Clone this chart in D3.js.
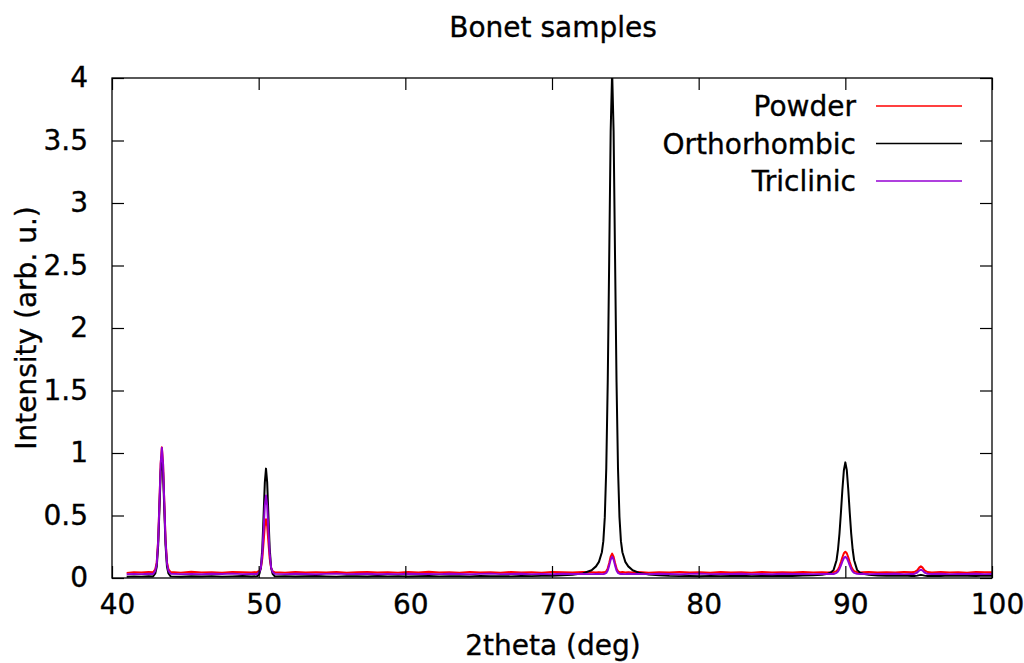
<!DOCTYPE html>
<html>
<head>
<meta charset="utf-8">
<script src="https://cdn.jsdelivr.net/npm/d3@7/dist/d3.min.js"></script>
<style>
  html, body { margin: 0; padding: 0; background: #fff; }
  svg { display: block; }
  text { font-family: "DejaVu Sans", Verdana, sans-serif; fill: #000; stroke: #000; stroke-width: 0.35px; }
</style>
</head>
<body>
<svg id="chart" width="1024" height="663"></svg>
<script>
// ---------- data ----------
const chartTitle = "Bonet samples";
const xLabel = "2theta (deg)";
const yLabel = "Intensity (arb. u.)";
const seriesNames = ["Powder", "Orthorhombic", "Triclinic"];
const xTicks = [40, 50, 60, 70, 80, 90, 100];
const yTicks = [0, 0.5, 1, 1.5, 2, 2.5, 3, 3.5, 4];

const twoTheta = [
  41.0, 41.5, 42.0, 42.5, 42.8, 42.95,
  43.05, 43.15, 43.25, 43.32, 43.4, 43.48, 43.55, 43.65, 43.75, 43.85,
  44.0, 44.7, 45.4, 46.1, 46.8, 47.5, 48.2, 48.9, 49.5, 49.9, 50.05,
  50.15, 50.25, 50.35, 50.42, 50.5, 50.58, 50.65, 50.75, 50.85, 50.95,
  51.1, 51.8, 52.5, 53.2, 53.9, 54.6, 55.3, 56.0, 56.7, 57.4, 58.1, 58.8, 59.5, 60.2, 60.9, 61.6,
  62.3, 63.0, 63.7, 64.4, 65.1, 65.8, 66.5, 67.2, 67.9, 68.6, 69.3, 70.0, 70.7, 71.4, 72.1, 72.7,
  73.0, 73.2, 73.4, 73.5, 73.6, 73.7, 73.8, 73.9, 74.0, 74.1,
  74.2, 74.3, 74.4, 74.5, 74.6, 74.7, 74.8, 75.0, 75.2, 75.5,
  75.9, 76.6, 77.3, 78.0, 78.7, 79.4, 80.1, 80.8, 81.5, 82.2,
  82.9, 83.6, 84.3, 85.0, 85.7, 86.4, 87.1, 87.8, 88.4,
  88.8, 89.0, 89.2, 89.4, 89.5, 89.6, 89.7, 89.8, 89.9, 90.0,
  90.1, 90.2, 90.3, 90.4, 90.5, 90.6, 90.8, 91.0, 91.2,
  91.6, 92.2, 92.8, 93.4, 94.0, 94.5,
  94.7, 94.9, 95.05, 95.15, 95.25, 95.4, 95.6,
  95.9, 96.5, 97.1, 97.7, 98.3, 98.9, 99.5, 100.0
];

const powder = [
  0.041, 0.047, 0.044, 0.049, 0.046, 0.07,
  0.125, 0.308, 0.663, 0.917, 1.045, 0.917, 0.663, 0.308, 0.125, 0.07,
  0.048, 0.043, 0.050, 0.045, 0.047, 0.042, 0.049, 0.046, 0.044, 0.048, 0.056,
  0.079, 0.157, 0.308, 0.416, 0.47, 0.416, 0.308, 0.157, 0.079, 0.056,
  0.046, 0.043, 0.049, 0.045, 0.047, 0.044, 0.048, 0.042, 0.046, 0.049, 0.044, 0.047, 0.043, 0.048, 0.045, 0.050,
  0.044, 0.047, 0.043, 0.049, 0.045, 0.046, 0.042, 0.048, 0.045, 0.047, 0.043, 0.049, 0.046, 0.044, 0.048, 0.046,
  0.045, 0.047, 0.044, 0.046, 0.047, 0.054, 0.077, 0.12, 0.171, 0.195,
  0.171, 0.12, 0.077, 0.054, 0.047, 0.046, 0.048, 0.044, 0.047, 0.045,
  0.048, 0.043, 0.047, 0.045, 0.049, 0.044, 0.046, 0.042, 0.048, 0.045,
  0.047, 0.043, 0.049, 0.045, 0.046, 0.044, 0.048, 0.045, 0.047,
  0.045, 0.046, 0.047, 0.055, 0.069, 0.093, 0.128, 0.166, 0.198, 0.21,
  0.198, 0.166, 0.128, 0.093, 0.069, 0.055, 0.047, 0.045, 0.046,
  0.048, 0.044, 0.047, 0.045, 0.049, 0.046,
  0.048, 0.061, 0.085, 0.093, 0.085, 0.061, 0.048,
  0.044, 0.048, 0.045, 0.047, 0.043, 0.049, 0.046, 0.047
];

const orthorhombic = [
  0.010, 0.013, 0.011, 0.014, 0.012, 0.036,
  0.089, 0.264, 0.605, 0.849, 0.972, 0.849, 0.605, 0.264, 0.089, 0.036,
  0.013, 0.010, 0.014, 0.012, 0.015, 0.011, 0.013, 0.016, 0.012, 0.014, 0.034,
  0.081, 0.239, 0.545, 0.765, 0.875, 0.765, 0.545, 0.239, 0.081, 0.034,
  0.013, 0.015, 0.012, 0.014, 0.016, 0.013, 0.011, 0.015, 0.014, 0.012, 0.016, 0.013, 0.015, 0.012, 0.014, 0.016,
  0.013, 0.015, 0.014, 0.012, 0.016, 0.014, 0.015, 0.013, 0.016, 0.015, 0.017, 0.018, 0.022, 0.026, 0.037, 0.062,
  0.093, 0.129, 0.206, 0.295, 0.487, 0.877, 1.567, 2.553, 3.575, 4.052,
  3.575, 2.553, 1.567, 0.877, 0.487, 0.295, 0.206, 0.129, 0.093, 0.062,
  0.043, 0.028, 0.022, 0.017, 0.015, 0.016, 0.014, 0.017, 0.015, 0.016,
  0.018, 0.015, 0.017, 0.016, 0.018, 0.016, 0.019, 0.021, 0.026,
  0.034, 0.043, 0.065, 0.142, 0.228, 0.355, 0.524, 0.708, 0.862, 0.925,
  0.862, 0.708, 0.524, 0.355, 0.228, 0.142, 0.065, 0.043, 0.034,
  0.026, 0.020, 0.018, 0.017, 0.019, 0.016,
  0.016, 0.019, 0.023, 0.025, 0.023, 0.019, 0.016,
  0.018, 0.016, 0.019, 0.017, 0.018, 0.016, 0.019, 0.017
];

const triclinic = [
  0.030, 0.033, 0.031, 0.034, 0.032, 0.057,
  0.113, 0.298, 0.656, 0.913, 1.042, 0.913, 0.656, 0.298, 0.113, 0.057,
  0.034, 0.031, 0.033, 0.030, 0.034, 0.032, 0.035, 0.031, 0.033, 0.032, 0.048,
  0.082, 0.197, 0.42, 0.58, 0.66, 0.58, 0.42, 0.197, 0.082, 0.048,
  0.033, 0.031, 0.034, 0.032, 0.030, 0.033, 0.035, 0.031, 0.032, 0.034, 0.030, 0.033, 0.031, 0.034, 0.032, 0.033,
  0.031, 0.034, 0.032, 0.030, 0.033, 0.035, 0.031, 0.032, 0.034, 0.031, 0.033, 0.030, 0.034, 0.032, 0.033, 0.031,
  0.032, 0.033, 0.031, 0.032, 0.034, 0.041, 0.061, 0.101, 0.148, 0.17,
  0.148, 0.101, 0.061, 0.041, 0.034, 0.032, 0.033, 0.031, 0.034, 0.032,
  0.033, 0.031, 0.034, 0.032, 0.030, 0.033, 0.035, 0.031, 0.033, 0.032,
  0.034, 0.031, 0.033, 0.030, 0.034, 0.032, 0.033, 0.031, 0.033,
  0.032, 0.033, 0.032, 0.041, 0.052, 0.072, 0.101, 0.133, 0.16, 0.17,
  0.16, 0.133, 0.101, 0.072, 0.052, 0.041, 0.033, 0.032, 0.034,
  0.031, 0.033, 0.032, 0.034, 0.031, 0.033,
  0.033, 0.044, 0.061, 0.066, 0.061, 0.044, 0.033,
  0.032, 0.034, 0.031, 0.033, 0.032, 0.034, 0.031, 0.033
];

const seriesColors = ["#ff0000", "#000000", "#9400d3"];

// ---------- layout ----------
const W = 1024, H = 663;
const plot = { left: 112, right: 992, top: 78, bottom: 578 };
const fontSize = 28;
const tickLen = 12;

const svg = d3.select("#chart");
svg.append("rect").attr("width", W).attr("height", H).attr("fill", "#fff");

const x = d3.scaleLinear().domain([40, 100]).range([plot.left, plot.right]);
const y = d3.scaleLinear().domain([0, 4]).range([plot.bottom, plot.top]);

// clip
svg.append("defs").append("clipPath").attr("id", "clip")
  .append("rect")
  .attr("x", plot.left).attr("y", plot.top)
  .attr("width", plot.right - plot.left).attr("height", plot.bottom - plot.top);

// series
const seriesValues = [powder, orthorhombic, triclinic];
const lineGen = d3.line().x(d => x(d[0])).y(d => y(d[1]));
const dataG = svg.append("g").attr("clip-path", "url(#clip)");
seriesValues.forEach((vals, i) => {
  const n = Math.min(vals.length, twoTheta.length);
  const pts = d3.range(n).map(k => [twoTheta[k], vals[k]]);
  dataG.append("path")
    .datum(pts)
    .attr("d", lineGen)
    .attr("fill", "none")
    .attr("stroke", seriesColors[i])
    .attr("stroke-width", 2)
    .attr("stroke-linejoin", "round");
});

// axes (gnuplot style: inward ticks, mirrored)
const axisStyle = g => {
  g.select(".domain").remove();
  g.selectAll(".tick line").attr("stroke", "#000").attr("stroke-width", 1.2);
  g.selectAll(".tick text").attr("font-size", fontSize).attr("font-family", "DejaVu Sans");
};

const xBottom = svg.append("g")
  .attr("transform", `translate(0,${plot.bottom})`)
  .call(d3.axisBottom(x).tickValues(xTicks).tickSizeInner(-tickLen).tickSizeOuter(0).tickPadding(16).tickFormat(d3.format("d")));
axisStyle(xBottom);
xBottom.selectAll(".tick text").attr("dx", 5).attr("dy", "0.71em");

const xTop = svg.append("g")
  .attr("transform", `translate(0,${plot.top})`)
  .call(d3.axisTop(x).tickValues(xTicks).tickSizeInner(-tickLen).tickSizeOuter(0).tickFormat(""));
axisStyle(xTop);

const yLeft = svg.append("g")
  .attr("transform", `translate(${plot.left},0)`)
  .call(d3.axisLeft(y).tickValues(yTicks).tickSizeInner(-tickLen).tickSizeOuter(0).tickPadding(24).tickFormat(d => String(d)));
axisStyle(yLeft);

const yRight = svg.append("g")
  .attr("transform", `translate(${plot.right},0)`)
  .call(d3.axisRight(y).tickValues(yTicks).tickSizeInner(-tickLen).tickSizeOuter(0).tickFormat(""));
axisStyle(yRight);

// border
svg.append("rect")
  .attr("x", plot.left).attr("y", plot.top)
  .attr("width", plot.right - plot.left).attr("height", plot.bottom - plot.top)
  .attr("fill", "none").attr("stroke", "#000").attr("stroke-width", 1.3);

// title & labels
svg.append("text").attr("x", 553).attr("y", 37)
  .attr("text-anchor", "middle").attr("font-size", fontSize).text(chartTitle);
svg.append("text").attr("x", 553).attr("y", 655)
  .attr("text-anchor", "middle").attr("font-size", fontSize).text(xLabel);
svg.append("text")
  .attr("transform", `translate(36,${(plot.top + plot.bottom) / 2}) rotate(-90)`)
  .attr("text-anchor", "middle").attr("font-size", fontSize).text(yLabel);

// legend
const legendY0 = 106, legendStep = 37.5;
const legend = svg.append("g");
seriesNames.forEach((name, i) => {
  const ly = legendY0 + i * legendStep;
  legend.append("text").attr("x", 856).attr("y", ly).attr("dy", "0.37em")
    .attr("text-anchor", "end").attr("font-size", fontSize).text(name);
  legend.append("line").attr("x1", 876).attr("x2", 962).attr("y1", ly).attr("y2", ly)
    .attr("stroke", seriesColors[i]).attr("stroke-width", 1.6);
});
</script>
</body>
</html>
